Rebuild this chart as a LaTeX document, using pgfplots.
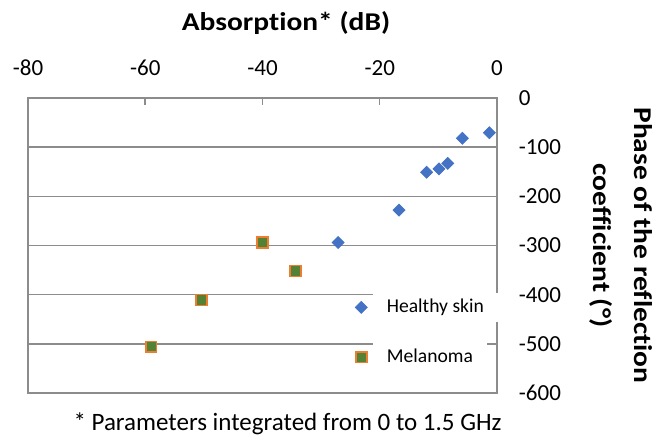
\documentclass[border=0pt]{standalone}
\usepackage{pgfplots}
\pgfplotsset{compat=1.18}
\usepackage{fontspec}
\setmainfont{Carlito}[Ligatures={NoCommon}]
\newfontfamily\labfont{Carlito}[FakeStretch=1.15, Ligatures={NoCommon}]
\definecolor{hblue}{HTML}{4472C4}
\definecolor{mgreen}{HTML}{548235}
\definecolor{morange}{HTML}{ED7D31}
\definecolor{lgray}{HTML}{8C8C8C}
\begin{document}
\begin{tikzpicture}
\path[use as bounding box] (-14pt,-25pt) rectangle (319pt,196.5pt);
\begin{axis}[name=ax, at={(0,0)}, anchor=south west,
  scale only axis, width=234.5pt, height=147.5pt,
  xmin=-80, xmax=0, ymin=-600, ymax=0,
  xtick={-80,-60,-40,-20,0}, xticklabels={-80,-60,-40,-20,0},
  ytick={-600,-500,-400,-300,-200,-100,0},
  yticklabels={-600,-500,-400,-300,-200,-100,0},
  xtick pos=right, xticklabel pos=right,
  ytick pos=right, yticklabel pos=right,
  tick align=inside, major tick length=3.5pt,
  xtick style={draw=lgray, line width=0.75pt},
  ytick style={draw=none},
  axis line style={draw=lgray, line width=0.75pt},
  ymajorgrids=true, grid style={draw=lgray, line width=0.75pt},
  xticklabel style={font=\fontsize{11.5}{13}\selectfont, anchor=base, inner sep=0pt, yshift=11.5pt},
  yticklabel style={font=\fontsize{11.5}{13}\selectfont, anchor=west, inner sep=0pt, xshift=10.75pt},
  legend style={at={(0.6972,0.342)}, anchor=north west, draw=none, fill=none,
    inner sep=0pt, row sep=10pt, column sep=2.8pt, font=\fontsize{9.8}{11}\selectfont,
    nodes={fill=white, inner ysep=3.3pt, inner xsep=7pt}},
  legend cell align=left,
]
\addplot[only marks, mark=square*, mark size=2.1pt,
  mark options={rotate=45, fill=hblue, draw=hblue}] coordinates {
  (-1.3,-70.5) (-5.9,-82) (-8.4,-133) (-9.9,-144) (-12.0,-151) (-16.7,-228) (-27.1,-294)
};
\addlegendentry{Healthy skin}
\addplot[only marks, mark=square*, mark size=2.7pt,
  mark options={fill=mgreen, draw=morange, line width=0.8pt}] coordinates {
  (-40.0,-294) (-34.4,-352) (-50.4,-411) (-59.0,-506)
};
\addlegendentry{Melanoma}
\end{axis}
\node[anchor=base, font=\labfont\fontsize{12.8}{15}\selectfont\bfseries]
  at ([xshift=11.75pt,yshift=34pt]ax.north) {Absorption* (dB)};
\node[rotate=-90, align=center, font=\labfont\fontsize{12.8}{16.5}\selectfont\bfseries]
  at ([xshift=62.25pt]ax.east) {Phase of the reflection\\[4pt]coefficient (°)};
\node[anchor=base, font=\fontsize{12.5}{14}\selectfont]
  at ([xshift=12.5pt,yshift=-19pt]ax.south) {* Parameters integrated from 0 to 1.5 GHz};
\end{tikzpicture}
\end{document}
